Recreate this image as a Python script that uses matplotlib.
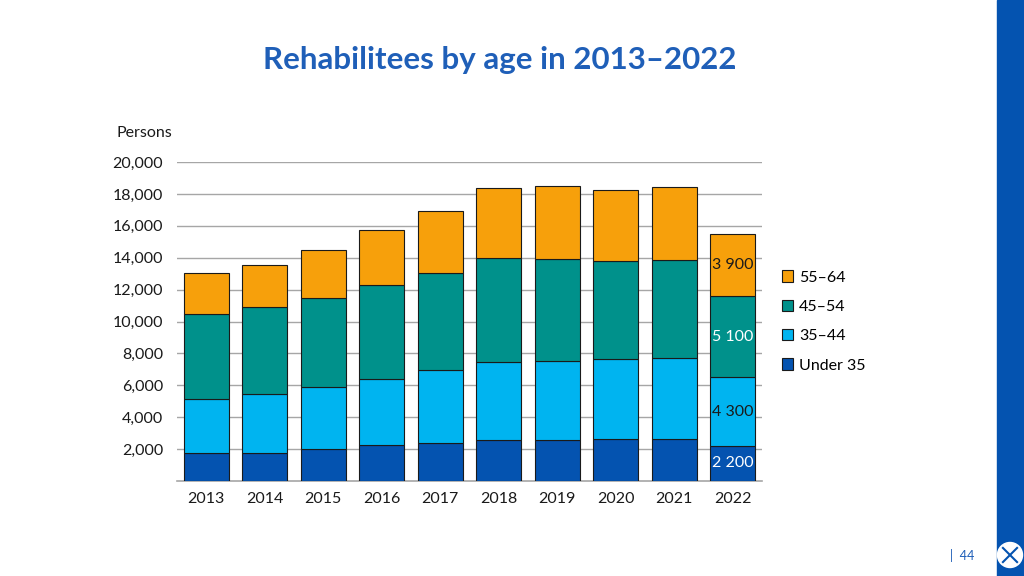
import numpy as np
import matplotlib.pyplot as plt
from matplotlib.patches import Rectangle, Circle
from matplotlib.ticker import FuncFormatter

years = ['2013', '2014', '2015', '2016', '2017', '2018', '2019', '2020', '2021', '2022']
under_35 = [1740, 1780, 2010, 2260, 2360, 2550, 2550, 2650, 2650, 2200]
age_35_44 = [3420, 3660, 3870, 4120, 4580, 4890, 4950, 4980, 5040, 4300]
age_45_54 = [5290, 5450, 5570, 5890, 6120, 6540, 6440, 6140, 6150, 5100]
age_55_64 = [2570, 2670, 3010, 3450, 3850, 4370, 4570, 4460, 4570, 3900]

series = [('Under 35', under_35, '#0453b0'),
          ('35–44', age_35_44, '#00b4f0'),
          ('45–54', age_45_54, '#00918b'),
          ('55–64', age_55_64, '#f7a00b')]
# label colours for the last bar
label_cols = ['white', '#1a1a1a', 'white', '#1a1a1a']

plt.rcParams['font.family'] = ['Lato', 'DejaVu Sans']

fig = plt.figure(figsize=(10.24, 5.76), dpi=100)
ax = fig.add_axes([177/1024, 95/576, 585/1024, 319/576])

x = np.arange(len(years))
bottom = np.zeros(len(years))
handles = []
for (name, vals, col), lc in zip(series, label_cols):
    vals = np.array(vals)
    b = ax.bar(x, vals, 0.77, bottom=bottom, color=col, edgecolor='#1a1a1a',
               linewidth=0.8, label=name, zorder=3)
    handles.append(b)
    # value of the last year written inside the segment
    ax.text(x[-1], bottom[-1] + vals[-1] / 2, f'{vals[-1]:,}'.replace(',', ' '),
            ha='center', va='center', fontsize=11.5, color=lc, zorder=4)
    bottom += vals

ax.set_xlim(-0.5, len(years) - 0.5)
ax.set_ylim(0, 20000)
ax.set_yticks(np.arange(2000, 20001, 2000))
ax.yaxis.set_major_formatter(FuncFormatter(lambda v, p: f'{int(v):,}'))
ax.set_xticks(x)
ax.set_xticklabels(years)
ax.tick_params(axis='both', length=0, labelsize=11.5, colors='#1a1a1a')
ax.tick_params(axis='y', pad=10)
ax.tick_params(axis='x', pad=8)
ax.grid(axis='y', color='#a6a6a6', linewidth=1, zorder=0)
for s in ['top', 'right', 'left']:
    ax.spines[s].set_visible(False)
ax.spines['bottom'].set_color('#a6a6a6')
ax.spines['bottom'].set_linewidth(1.2)

leg = ax.legend(handles=handles[::-1], loc='center left', bbox_to_anchor=(1.01, 0.5),
                frameon=False, fontsize=11.5, handlelength=0.7, handleheight=0.7,
                handletextpad=0.35, labelspacing=0.95)

fig.text(117/1024, 1 - 133/576, 'Persons', fontsize=11.5, color='#1a1a1a', va='center')
fig.text(500/1024, 1 - 60/576, 'Rehabilitees by age in 2013–2022', fontsize=22.5,
         fontweight='bold', color='#1f5fb8', ha='center', va='center')

# right side band with logo
fig.patches.append(Rectangle((997/1024, 0), 27/1024, 1, transform=fig.transFigure,
                             color='#0453b0', zorder=0))
fig.patches.append(Circle((10.10, 0.21), 0.125, transform=fig.dpi_scale_trans,
                          color='white', zorder=1))
for ang in [45, 135]:
    t = np.deg2rad(ang)
    fig.add_artist(plt.Line2D([10.10 - 0.1 * np.cos(t), 10.10 + 0.1 * np.cos(t)],
                              [0.21 - 0.1 * np.sin(t), 0.21 + 0.1 * np.sin(t)],
                              transform=fig.dpi_scale_trans, color='#0453b0', lw=1.5))
fig.text(950/1024, 1 - 555/576, '|  44', fontsize=9, color='#1f5fb8', va='center')

fig.savefig('out.png', dpi=100)
